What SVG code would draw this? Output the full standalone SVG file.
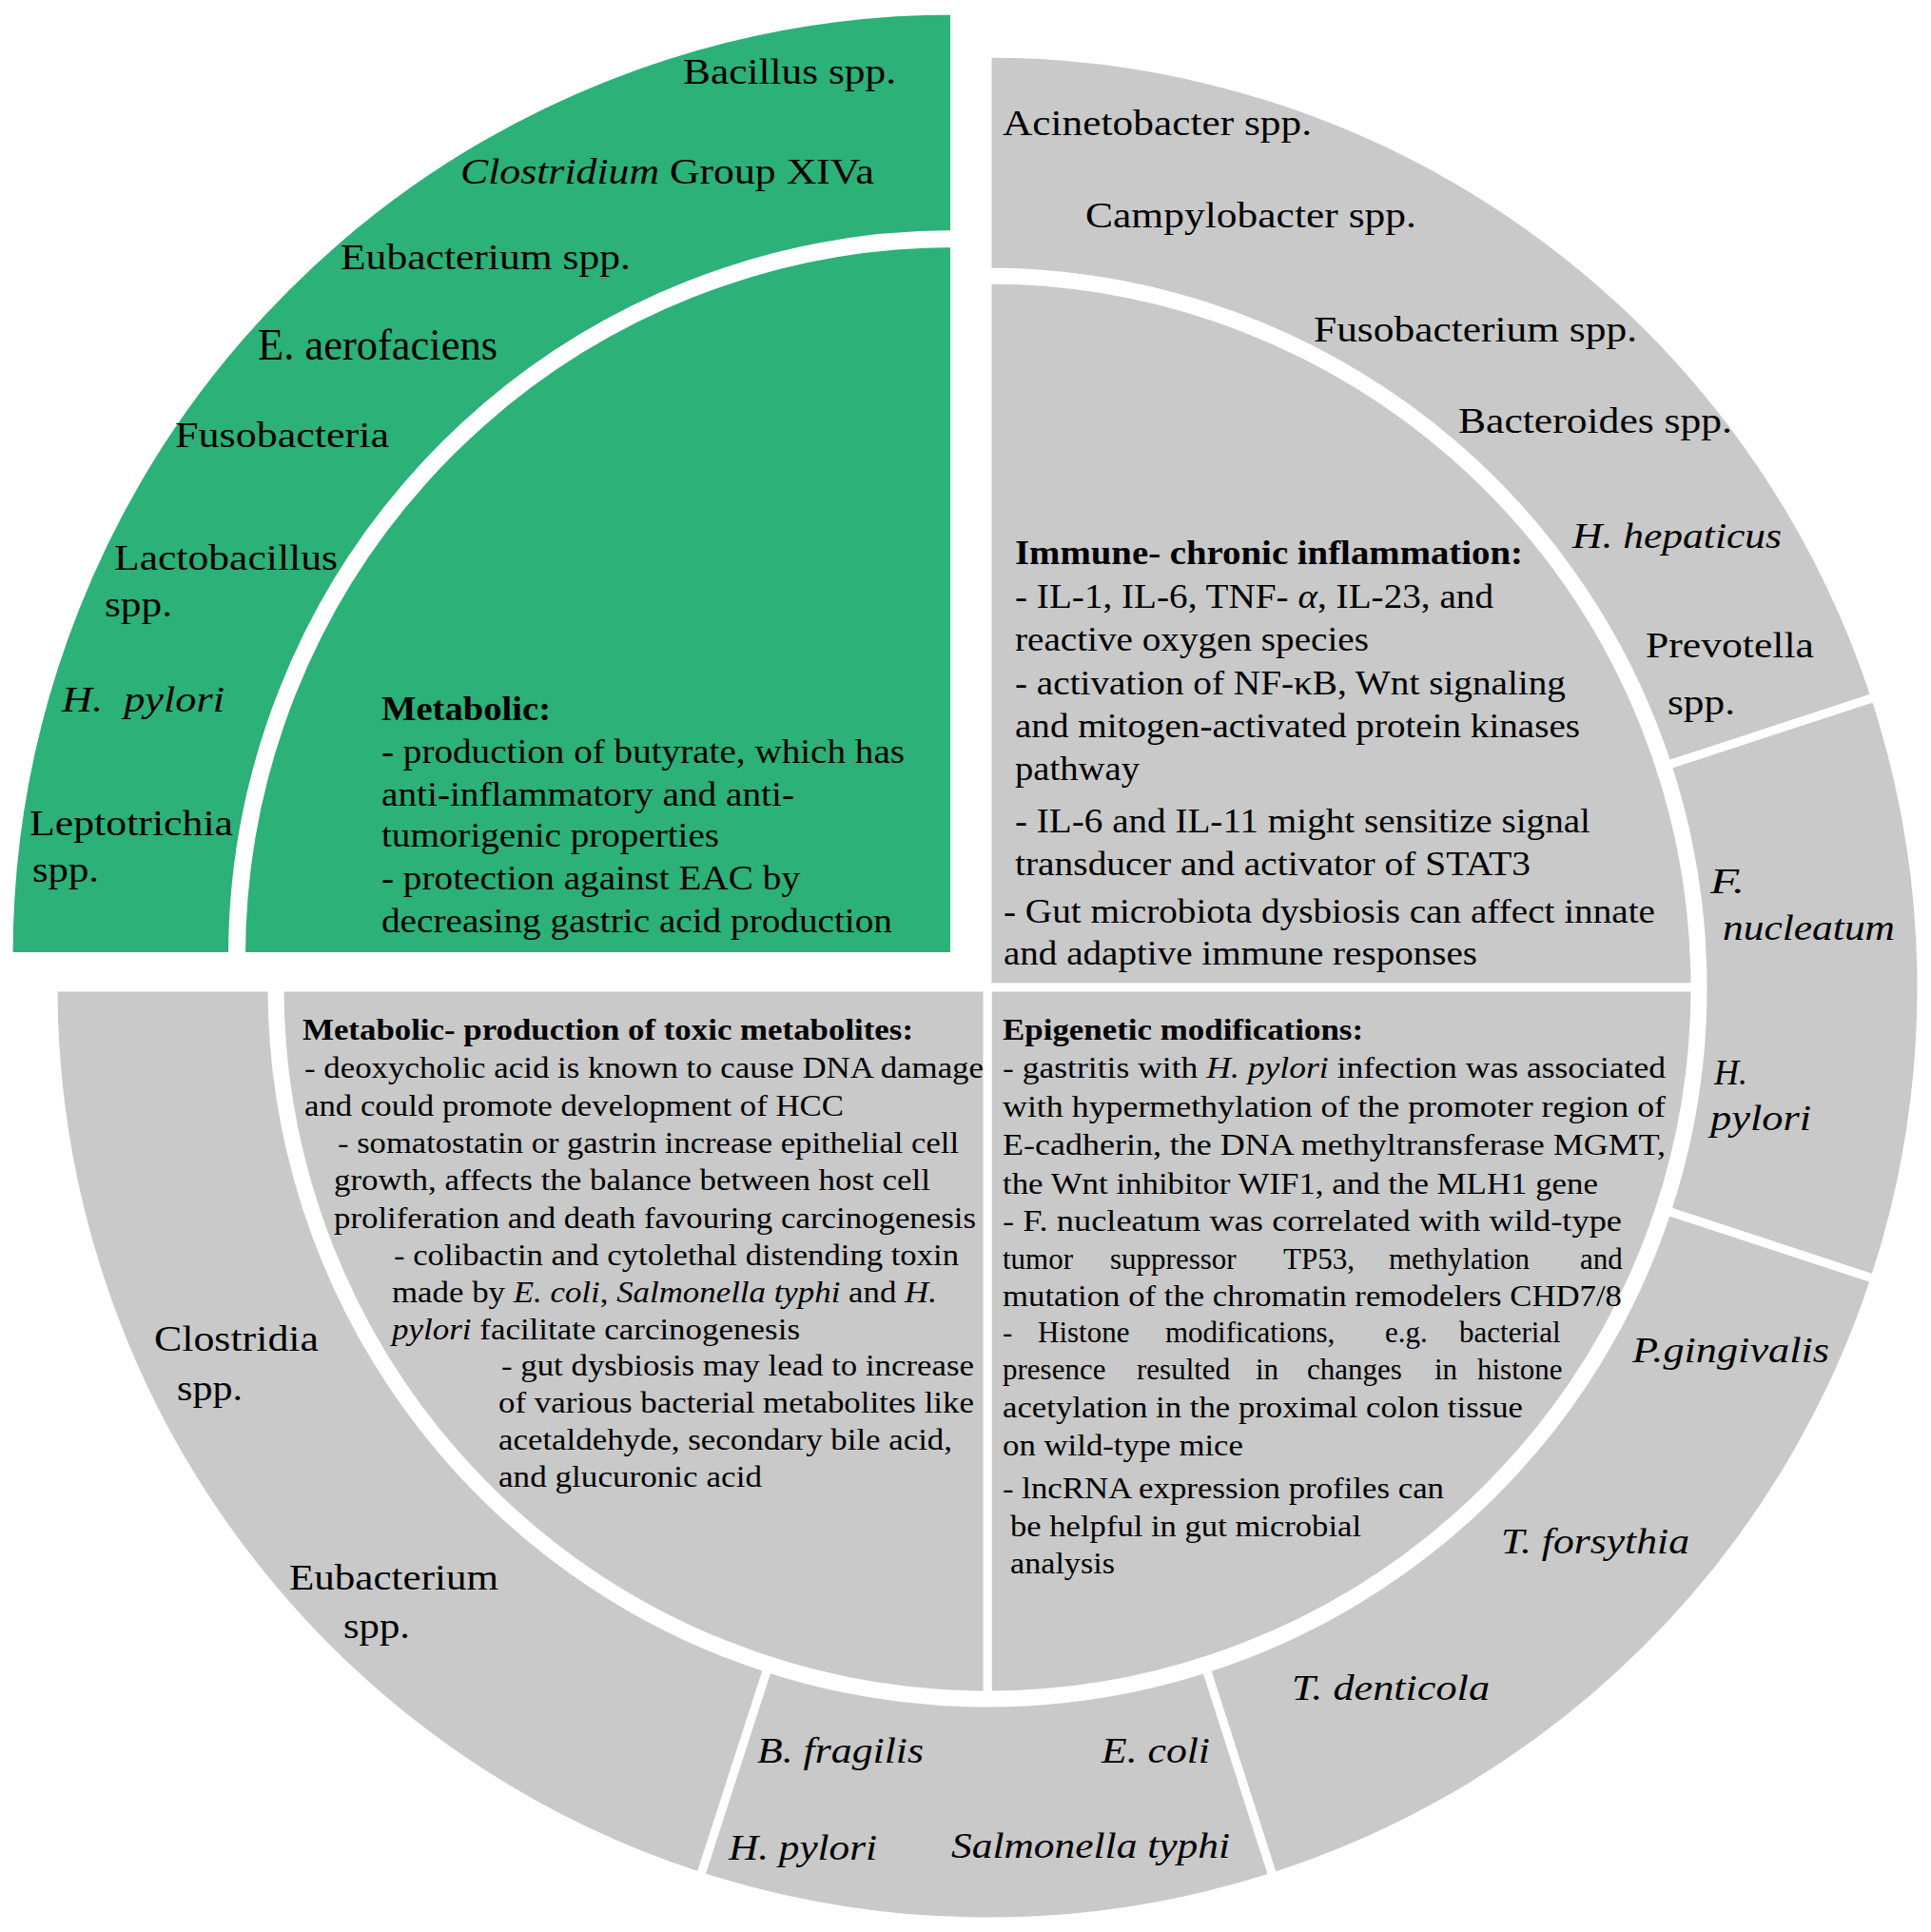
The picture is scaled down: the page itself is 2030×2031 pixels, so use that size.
<svg xmlns="http://www.w3.org/2000/svg" width="2030" height="2031" viewBox="0 0 2030 2031">
<style>
.seg{stroke:#fff;stroke-width:9;stroke-linejoin:miter}
.gray{fill:#c9c9c9}
.green{fill:#2cb178}
text{font-family:'Liberation Serif','Times New Roman',serif;fill:#000}
.lbl{font-size:38px}
.big{font-size:47px}
.t35{font-size:35px}
.t31{font-size:31px}
.it{font-style:italic}
.b{font-weight:bold}
</style>
<rect width="2030" height="2031" fill="#fff"/>

<g id="green-ring">
<path class="seg green" d="M 9 1005.5 A 994.5 994.5 0 0 1 1003.5 11 L 1003.5 246.5 A 759 759 0 0 0 244.5 1005.5 Z"/>
<text class="lbl" x="718" y="88" textLength="224" lengthAdjust="spacingAndGlyphs">Bacillus spp.</text>
<text class="lbl" x="484" y="193" textLength="435" lengthAdjust="spacingAndGlyphs"><tspan class="it">Clostridium</tspan> Group XIVa</text>
<text class="lbl" x="358" y="283" textLength="305" lengthAdjust="spacingAndGlyphs">Eubacterium spp.</text>
<text class="big" x="271" y="378" textLength="252" lengthAdjust="spacingAndGlyphs">E. aerofaciens</text>
<text class="lbl" x="184" y="470" textLength="225" lengthAdjust="spacingAndGlyphs">Fusobacteria</text>
<text class="lbl" x="120" y="599" textLength="235" lengthAdjust="spacingAndGlyphs">Lactobacillus</text>
<text class="lbl" x="110" y="648" textLength="71" lengthAdjust="spacingAndGlyphs">spp.</text>
<text class="lbl it" x="65" y="748" textLength="171" lengthAdjust="spacingAndGlyphs" style="white-space:pre">H.  pylori</text>
<text class="lbl" x="31" y="878" textLength="214" lengthAdjust="spacingAndGlyphs">Leptotrichia</text>
<text class="lbl" x="34" y="927" textLength="70" lengthAdjust="spacingAndGlyphs">spp.</text>
</g>

<g id="green-core">
<path class="seg green" d="M 1003.5 1005.5 L 253.5 1005.5 A 750 750 0 0 1 1003.5 255.5 Z"/>
<text class="t35 b" x="401" y="757" textLength="178" lengthAdjust="spacingAndGlyphs">Metabolic:</text>
<text class="t35" x="401" y="802" textLength="550" lengthAdjust="spacingAndGlyphs">- production of butyrate, which has</text>
<text class="t35" x="401" y="847" textLength="434" lengthAdjust="spacingAndGlyphs">anti-inflammatory and anti-</text>
<text class="t35" x="401" y="890" textLength="355" lengthAdjust="spacingAndGlyphs">tumorigenic properties</text>
<text class="t35" x="401" y="935" textLength="440" lengthAdjust="spacingAndGlyphs">- protection against EAC by</text>
<text class="t35" x="401" y="980" textLength="537" lengthAdjust="spacingAndGlyphs">decreasing gastric acid production</text>
</g>

<g id="tr-ring">
<path class="seg gray" d="M 1038 56 A 982 982 0 0 1 1971.4 732.9 L 1752.8 804.4 A 752 752 0 0 0 1038 286 Z"/>
<text class="lbl" x="1054" y="142" textLength="325" lengthAdjust="spacingAndGlyphs">Acinetobacter spp.</text>
<text class="lbl" x="1141" y="239" textLength="348" lengthAdjust="spacingAndGlyphs">Campylobacter spp.</text>
<text class="lbl" x="1381" y="359" textLength="340" lengthAdjust="spacingAndGlyphs">Fusobacterium spp.</text>
<text class="lbl" x="1533" y="455" textLength="288" lengthAdjust="spacingAndGlyphs">Bacteroides spp.</text>
<text class="lbl it" x="1653" y="576" textLength="220" lengthAdjust="spacingAndGlyphs">H. hepaticus</text>
<text class="lbl" x="1730" y="691" textLength="177" lengthAdjust="spacingAndGlyphs">Prevotella</text>
<text class="lbl" x="1753" y="751" textLength="71" lengthAdjust="spacingAndGlyphs">spp.</text>
</g>

<g id="right-ring">
<path class="seg gray" d="M 1971.4 732.9 A 982 982 0 0 1 1970.9 1344.7 L 1752.4 1272.9 A 752 752 0 0 0 1752.8 804.4 Z"/>
<text class="lbl it" x="1798" y="939" textLength="36" lengthAdjust="spacingAndGlyphs">F.</text>
<text class="lbl it" x="1811" y="988" textLength="181" lengthAdjust="spacingAndGlyphs">nucleatum</text>
<text class="lbl it" x="1802" y="1140" textLength="35" lengthAdjust="spacingAndGlyphs">H.</text>
<text class="lbl it" x="1798" y="1188" textLength="106" lengthAdjust="spacingAndGlyphs">pylori</text>
</g>

<g id="br-ring">
<path class="seg gray" d="M 1970.9 1344.7 A 982 982 0 0 1 1338.2 1973 L 1267.9 1754 A 752 752 0 0 0 1752.4 1272.9 Z"/>
<text class="lbl it" x="1716" y="1432" textLength="207" lengthAdjust="spacingAndGlyphs">P.gingivalis</text>
<text class="lbl it" x="1578" y="1633" textLength="198" lengthAdjust="spacingAndGlyphs">T. forsythia</text>
<text class="lbl it" x="1358" y="1787" textLength="208" lengthAdjust="spacingAndGlyphs">T. denticola</text>
</g>

<g id="bottom-ring">
<path class="seg gray" d="M 1338.2 1973 A 982 982 0 0 1 736.2 1972.5 L 806.9 1753.6 A 752 752 0 0 0 1267.9 1754 Z"/>
<text class="lbl it" x="796" y="1853" textLength="175" lengthAdjust="spacingAndGlyphs">B. fragilis</text>
<text class="lbl it" x="1158" y="1853" textLength="114" lengthAdjust="spacingAndGlyphs">E. coli</text>
<text class="lbl it" x="766" y="1955" textLength="156" lengthAdjust="spacingAndGlyphs">H. pylori</text>
<text class="lbl it" x="1000" y="1953" textLength="293" lengthAdjust="spacingAndGlyphs">Salmonella typhi</text>
</g>

<g id="bl-ring">
<path class="seg gray" d="M 736.2 1972.5 A 982 982 0 0 1 56 1038 L 286 1038 A 752 752 0 0 0 806.9 1753.6 Z"/>
<text class="lbl" x="162" y="1420" textLength="173" lengthAdjust="spacingAndGlyphs">Clostridia</text>
<text class="lbl" x="186" y="1472" textLength="69" lengthAdjust="spacingAndGlyphs">spp.</text>
<text class="lbl" x="304" y="1671" textLength="220" lengthAdjust="spacingAndGlyphs">Eubacterium</text>
<text class="lbl" x="361" y="1722" textLength="70" lengthAdjust="spacingAndGlyphs">spp.</text>
</g>

<g id="tr-core">
<path class="seg gray" d="M 1038 1038 L 1038 294 A 744 744 0 0 1 1782 1038 Z"/>
<text class="t35 b" x="1067" y="593" textLength="534" lengthAdjust="spacingAndGlyphs">Immune- chronic inflammation:</text>
<text class="t35" x="1067" y="639" textLength="503" lengthAdjust="spacingAndGlyphs">- IL-1, IL-6, TNF- <tspan class="it">α</tspan>, IL-23, and</text>
<text class="t35" x="1067" y="684" textLength="372" lengthAdjust="spacingAndGlyphs">reactive oxygen species</text>
<text class="t35" x="1067" y="730" textLength="579" lengthAdjust="spacingAndGlyphs">- activation of NF-κB, Wnt signaling</text>
<text class="t35" x="1067" y="775" textLength="594" lengthAdjust="spacingAndGlyphs">and mitogen-activated protein kinases</text>
<text class="t35" x="1067" y="820" textLength="131" lengthAdjust="spacingAndGlyphs">pathway</text>
<text class="t35" x="1067" y="875" textLength="605" lengthAdjust="spacingAndGlyphs">- IL-6 and IL-11 might sensitize signal</text>
<text class="t35" x="1067" y="920" textLength="542" lengthAdjust="spacingAndGlyphs">transducer and activator of STAT3</text>
<text class="t35" x="1055" y="970" textLength="685" lengthAdjust="spacingAndGlyphs">- Gut microbiota dysbiosis can affect innate</text>
<text class="t35" x="1055" y="1014" textLength="498" lengthAdjust="spacingAndGlyphs">and adaptive immune responses</text>
</g>

<g id="br-core">
<path class="seg gray" d="M 1038 1038 L 1782 1038 A 744 744 0 0 1 1038 1782 Z"/>
<text class="t31 b" x="1054" y="1093" textLength="379" lengthAdjust="spacingAndGlyphs">Epigenetic modifications:</text>
<text class="t31" x="1054" y="1133" textLength="697" lengthAdjust="spacingAndGlyphs">- gastritis with <tspan class="it">H. pylori</tspan> infection was associated</text>
<text class="t31" x="1054" y="1174" textLength="697" lengthAdjust="spacingAndGlyphs">with hypermethylation of the promoter region of</text>
<text class="t31" x="1054" y="1214" textLength="697" lengthAdjust="spacingAndGlyphs">E-cadherin, the DNA methyltransferase MGMT,</text>
<text class="t31" x="1054" y="1255" textLength="626" lengthAdjust="spacingAndGlyphs">the Wnt inhibitor WIF1, and the MLH1 gene</text>
<text class="t31" x="1054" y="1294" textLength="651" lengthAdjust="spacingAndGlyphs">- F. nucleatum was correlated with wild-type</text>
<text class="t31" y="1334"><tspan x="1054">tumor</tspan><tspan x="1167">suppressor</tspan><tspan x="1349">TP53,</tspan><tspan x="1460">methylation</tspan><tspan x="1661">and</tspan></text>
<text class="t31" x="1054" y="1373" textLength="651" lengthAdjust="spacingAndGlyphs">mutation of the chromatin remodelers CHD7/8</text>
<text class="t31" y="1411"><tspan x="1054">-</tspan><tspan x="1091">Histone</tspan><tspan x="1225">modifications,</tspan><tspan x="1456">e.g.</tspan><tspan x="1534">bacterial</tspan></text>
<text class="t31" y="1450"><tspan x="1054">presence</tspan><tspan x="1195">resulted</tspan><tspan x="1320">in</tspan><tspan x="1374">changes</tspan><tspan x="1508">in</tspan><tspan x="1553">histone</tspan></text>
<text class="t31" x="1054" y="1490" textLength="547" lengthAdjust="spacingAndGlyphs">acetylation in the proximal colon tissue</text>
<text class="t31" x="1054" y="1530" textLength="253" lengthAdjust="spacingAndGlyphs">on wild-type mice</text>
<text class="t31" x="1054" y="1575" textLength="464" lengthAdjust="spacingAndGlyphs">- lncRNA expression profiles can</text>
<text class="t31" x="1062" y="1615" textLength="369" lengthAdjust="spacingAndGlyphs">be helpful in gut microbial</text>
<text class="t31" x="1062" y="1654" textLength="110" lengthAdjust="spacingAndGlyphs">analysis</text>
</g>

<g id="bl-core">
<path class="seg gray" d="M 1038 1038 L 1038 1782 A 744 744 0 0 1 294 1038 Z"/>
<text class="t31 b" x="318" y="1093" textLength="642" lengthAdjust="spacingAndGlyphs">Metabolic- production of toxic metabolites:</text>
<text class="t31" x="320" y="1133" textLength="714" lengthAdjust="spacingAndGlyphs">- deoxycholic acid is known to cause DNA damage</text>
<text class="t31" x="320" y="1173" textLength="567" lengthAdjust="spacingAndGlyphs">and could promote development of HCC</text>
<text class="t31" x="355" y="1212" textLength="653" lengthAdjust="spacingAndGlyphs">- somatostatin or gastrin increase epithelial cell</text>
<text class="t31" x="351" y="1251" textLength="627" lengthAdjust="spacingAndGlyphs">growth, affects the balance between host cell</text>
<text class="t31" x="351" y="1291" textLength="675" lengthAdjust="spacingAndGlyphs">proliferation and death favouring carcinogenesis</text>
<text class="t31" x="414" y="1330" textLength="594" lengthAdjust="spacingAndGlyphs">- colibactin and cytolethal distending toxin</text>
<text class="t31" x="412" y="1369" textLength="573" lengthAdjust="spacingAndGlyphs">made by <tspan class="it">E. coli</tspan>, <tspan class="it">Salmonella typhi</tspan> and <tspan class="it">H.</tspan></text>
<text class="t31" x="412" y="1408" textLength="429" lengthAdjust="spacingAndGlyphs"><tspan class="it">pylori</tspan> facilitate carcinogenesis</text>
<text class="t31" x="527" y="1446" textLength="497" lengthAdjust="spacingAndGlyphs">- gut dysbiosis may lead to increase</text>
<text class="t31" x="524" y="1485" textLength="500" lengthAdjust="spacingAndGlyphs">of various bacterial metabolites like</text>
<text class="t31" x="524" y="1524" textLength="477" lengthAdjust="spacingAndGlyphs">acetaldehyde, secondary bile acid,</text>
<text class="t31" x="524" y="1563" textLength="277" lengthAdjust="spacingAndGlyphs">and glucuronic acid</text>
</g>

<g id="connectors"></g>
</svg>
